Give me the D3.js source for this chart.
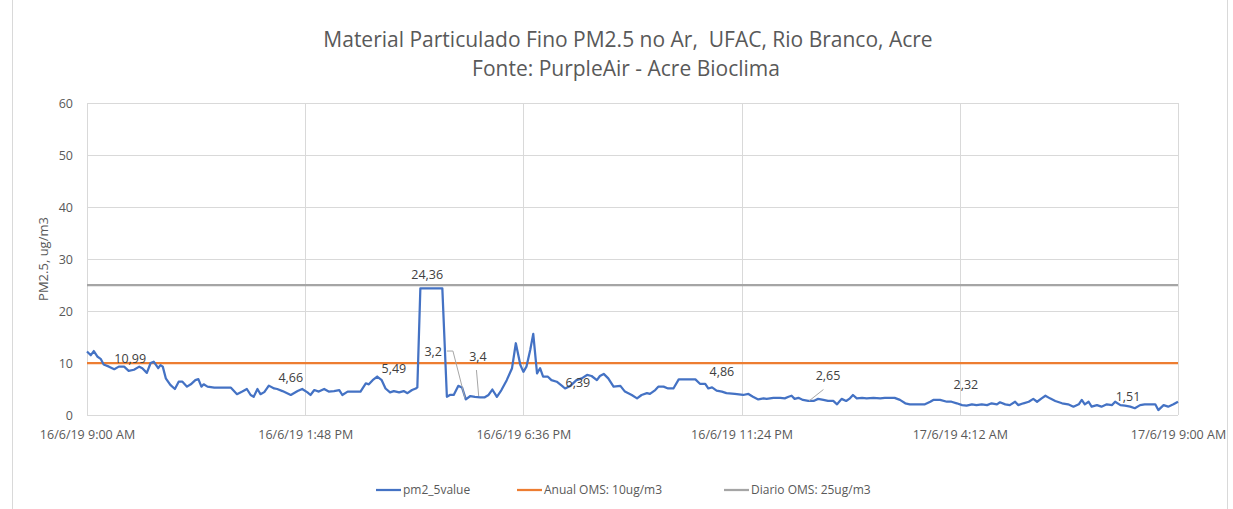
<!DOCTYPE html>
<html>
<head>
<meta charset="utf-8">
<script src="https://cdn.jsdelivr.net/npm/d3@7"></script>
<style>
  body { margin: 0; background: #fff; }
  text { font-family: "Open Sans", "Noto Sans", sans-serif; fill: #595959; }
</style>
</head>
<body>
<svg id="chart" width="1233" height="509"></svg>
<script>
// minutes after 16/6/19 9:00 AM, and PM2.5 readings
var series_minutes = [0,5,9,14,18,22,29,36,42,49,55,62,69,73,79,84,88,94,97,100,104,110,116,121,126,132,137,143,147,151,154,159,168,190,198,205,211,216,220,225,229,234,240,247,251,258,269,278,284,291,295,300,306,313,319,326,333,337,344,361,368,372,377,383,389,394,400,405,412,418,423,429,434,436,440,469,475,479,484,490,495,500,506,512,519,525,530,535,541,547,554,561,566,572,576,580,585,589,594,598,602,608,613,620,627,631,638,646,653,660,666,673,677,682,688,695,704,710,719,726,732,739,743,750,754,761,767,774,781,803,809,816,820,825,831,838,844,855,866,873,879,886,893,897,906,915,921,926,930,934,939,945,952,959,965,972,978,985,990,996,1002,1007,1011,1016,1023,1029,1038,1047,1053,1060,1066,1073,1080,1086,1093,1099,1106,1113,1117,1126,1135,1141,1148,1155,1161,1168,1174,1181,1188,1194,1201,1205,1212,1218,1225,1229,1236,1243,1249,1254,1260,1265,1271,1278,1287,1295,1302,1309,1313,1317,1322,1326,1333,1339,1346,1353,1357,1364,1370,1377,1383,1390,1396,1403,1410,1414,1421,1427,1434,1440];
var series_values = [12.2,11.5,12.3,11.2,10.8,9.7,9.3,8.8,9.3,9.3,8.5,8.7,9.3,9.0,8.1,10.0,10.25,9.0,9.6,9.3,7.05,5.8,5.0,6.4,6.4,5.45,5.9,6.7,6.9,5.45,5.9,5.45,5.25,5.25,4.0,4.5,5.0,3.85,3.5,5.0,4.0,4.4,5.65,5.1,5.0,4.6,3.85,4.6,5.0,4.35,3.85,4.8,4.5,5.0,4.5,4.6,4.8,3.85,4.5,4.5,6.1,5.9,6.7,7.4,6.7,5.1,4.35,4.6,4.35,4.6,4.2,4.8,5.1,5.3,24.36,24.36,3.5,3.85,3.85,5.6,5.3,3.0,3.65,3.5,3.4,3.4,3.85,4.9,3.5,4.8,6.7,9.0,13.8,9.6,8.3,9.3,12.5,15.6,8.0,9.0,7.4,7.4,6.7,6.4,5.6,5.1,5.6,6.7,7.05,7.7,7.5,6.7,7.5,7.9,7.05,5.45,5.6,4.5,3.85,3.2,3.85,4.2,4.05,4.8,5.45,5.45,5.1,5.1,6.85,6.85,6.0,6.0,5.1,5.3,4.7,4.5,4.2,4.05,3.85,4.05,3.5,3.0,3.2,3.1,3.3,3.3,3.2,3.5,3.7,3.1,3.3,2.9,2.7,2.7,3.1,2.9,2.7,2.7,2.05,3.1,2.7,3.2,3.85,3.2,3.3,3.2,3.3,3.2,3.3,3.3,3.3,2.9,2.25,2.05,2.05,2.05,2.05,2.55,2.9,2.9,2.55,2.55,2.25,1.9,1.8,2.05,1.9,2.05,1.9,2.25,2.05,2.45,2.05,1.9,2.55,1.9,2.25,2.55,3.1,2.55,3.2,3.7,3.2,2.7,2.25,2.05,1.6,2.05,2.9,2.05,2.55,1.6,1.9,1.6,2.05,1.9,2.55,1.9,1.8,1.6,1.3,1.9,2.05,2.05,2.05,0.95,1.9,1.6,2.05,2.55];

var anual_oms = 10;
var diario_oms = 25;

var y_ticks = [0, 10, 20, 30, 40, 50, 60];
var x_tick_minutes = [0, 288, 576, 864, 1152, 1440];

// data labels: text, anchor minute, anchor value
var label_texts = ["10,99", "4,66", "24,36", "5,49", "3,2", "3,4", "6,39", "4,86", "2,65", "2,32", "1,51"];
var label_minutes = [57, 269, 449, 405, 457, 516, 648, 838, 978, 1160, 1374];
var label_values = [10.8, 7.1, 26.9, 9.0, 12.1, 11.15, 6.15, 8.27, 7.5, 5.77, 3.46];

// leader lines for moved labels (minute, value)
var leader_lines = [
  [[475, 12.3], [483, 12.3], [499, 3.2]],
  [[514, 8.65], [517, 3.65]],
  [[972, 4.9], [953, 2.7]]
];

var legend_names = ["pm2_5value", "Anual OMS: 10ug/m3", "Diario OMS: 25ug/m3"];
var legend_colors = ["#4472C4", "#ED7D31", "#A5A5A5"];

var start = new Date(2019, 5, 16, 9, 0);
function toDate(m) { return new Date(start.getTime() + m * 60000); }

var svg = d3.select("#chart");

// outer frame
svg.append("rect")
    .attr("x", 12.5).attr("y", -2)
    .attr("width", 1215).attr("height", 514)
    .attr("fill", "none").attr("stroke", "#d9d9d9");

var x = d3.scaleTime()
    .domain([toDate(0), toDate(1440)])
    .range([87, 1178]);

var y = d3.scaleLinear()
    .domain([0, 60])
    .range([415, 103]);

// gridlines
svg.append("g").selectAll("line").data(y_ticks).enter()
  .append("line")
    .attr("x1", 87).attr("x2", 1178)
    .attr("y1", function(d) { return Math.round(y(d)) + 0.5; })
    .attr("y2", function(d) { return Math.round(y(d)) + 0.5; })
    .attr("stroke", "#d9d9d9");

svg.append("g").selectAll("line").data(x_tick_minutes).enter()
  .append("line")
    .attr("x1", function(d) { return Math.round(x(toDate(d))) + 0.5; })
    .attr("x2", function(d) { return Math.round(x(toDate(d))) + 0.5; })
    .attr("y1", 103).attr("y2", 415)
    .attr("stroke", "#d9d9d9");

// axes (labels only)
var fmt = d3.timeFormat("%-d/%-m/%y %-I:%M %p");

var xAxis = svg.append("g")
    .attr("transform", "translate(0,415)")
    .call(d3.axisBottom(x).tickValues(x_tick_minutes.map(toDate)).tickFormat(fmt).tickSize(0).tickPadding(15));
xAxis.select(".domain").remove();
xAxis.selectAll("text").attr("font-size", 12.5).attr("font-family", "Open Sans").style("fill", "#595959");

var yAxis = svg.append("g")
    .attr("transform", "translate(87,0)")
    .call(d3.axisLeft(y).tickValues(y_ticks).tickSize(0).tickPadding(14));
yAxis.select(".domain").remove();
yAxis.selectAll("text").attr("font-size", 12.5).attr("font-family", "Open Sans").style("fill", "#595959");

// y axis title
svg.append("text")
    .attr("transform", "translate(48,259) rotate(-90)")
    .attr("text-anchor", "middle")
    .attr("font-size", 13)
    .text("PM2.5, ug/m3");

// reference lines
svg.append("line")
    .attr("x1", 87).attr("x2", 1178)
    .attr("y1", y(diario_oms)).attr("y2", y(diario_oms))
    .attr("stroke", legend_colors[2]).attr("stroke-width", 2.25);

svg.append("line")
    .attr("x1", 87).attr("x2", 1178)
    .attr("y1", y(anual_oms)).attr("y2", y(anual_oms))
    .attr("stroke", legend_colors[1]).attr("stroke-width", 2.25);

// series
var line = d3.line()
    .x(function(d, i) { return x(toDate(series_minutes[i])); })
    .y(function(d) { return y(d); });

svg.append("path")
    .datum(series_values)
    .attr("d", line)
    .attr("fill", "none")
    .attr("stroke", legend_colors[0])
    .attr("stroke-width", 2.25)
    .attr("stroke-linejoin", "round");

// leader lines
var leader = d3.line()
    .x(function(d) { return x(toDate(d[0])); })
    .y(function(d) { return y(d[1]); });

svg.append("g").selectAll("path").data(leader_lines).enter()
  .append("path")
    .attr("d", leader)
    .attr("fill", "none")
    .attr("stroke", "#a6a6a6")
    .attr("stroke-width", 1);

// data labels
svg.append("g").selectAll("text").data(label_texts).enter()
  .append("text")
    .attr("x", function(d, i) { return x(toDate(label_minutes[i])); })
    .attr("y", function(d, i) { return y(label_values[i]); })
    .attr("dy", "0.35em")
    .attr("text-anchor", "middle")
    .attr("font-size", 12.5)
    .style("fill", "#404040")
    .text(function(d) { return d; });

// title
svg.append("text")
    .attr("x", 628).attr("y", 47)
    .attr("text-anchor", "middle")
    .attr("font-size", 21)
    .attr("xml:space", "preserve")
    .text("Material Particulado Fino PM2.5 no Ar,  UFAC, Rio Branco, Acre");

svg.append("text")
    .attr("x", 626).attr("y", 76)
    .attr("text-anchor", "middle")
    .attr("font-size", 21)
    .text("Fonte: PurpleAir - Acre Bioclima");

// legend
var legend_x = [376, 517, 724];
var legend = svg.append("g").selectAll("g").data(legend_names).enter()
  .append("g")
    .attr("transform", function(d, i) { return "translate(" + legend_x[i] + ",490)"; });

legend.append("line")
    .attr("x1", 0).attr("x2", 25)
    .attr("stroke", function(d, i) { return legend_colors[i]; })
    .attr("stroke-width", 2.25);

legend.append("text")
    .attr("x", 27)
    .attr("dy", "0.35em")
    .attr("font-size", 12)
    .text(function(d) { return d; });
</script>
</body>
</html>
